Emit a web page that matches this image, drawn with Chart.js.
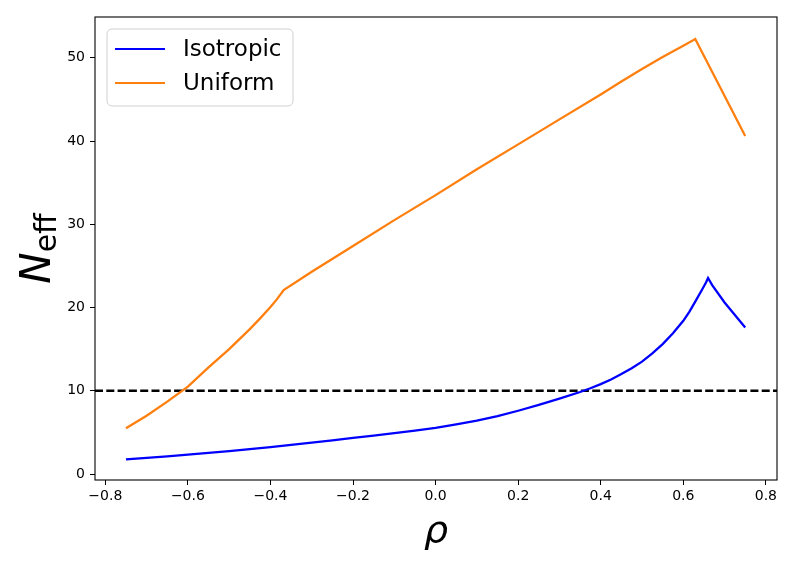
<!DOCTYPE html>
<html>
<head>
<meta charset="utf-8">
<script src="https://cdn.jsdelivr.net/npm/chart.js@4/dist/chart.umd.min.js"></script>
<style>
    html, body { margin: 0; padding: 0; background: #fff; }
    .wrap { width: 797px; height: 570px; }
</style>
</head>
<body>
<div class="wrap"><canvas id="chart" width="797" height="570"></canvas></div>
<script>
'use strict'

const rhoIso = [-0.75, -0.7, -0.65, -0.6, -0.55, -0.5, -0.45, -0.4, -0.35, -0.3, -0.25, -0.2, -0.15, -0.1, -0.05,
    0, 0.05, 0.1, 0.15, 0.2, 0.25, 0.3, 0.35, 0.375, 0.4, 0.425, 0.45, 0.475, 0.5, 0.525, 0.55, 0.575, 0.6,
    0.615, 0.63, 0.645, 0.655, 0.66, 0.67, 0.7, 0.75];
const nIso = [1.76, 1.94, 2.13, 2.33, 2.54, 2.76, 2.99, 3.24, 3.5, 3.77, 4.05, 4.35, 4.62, 4.92, 5.22,
    5.55, 5.95, 6.4, 6.95, 7.6, 8.3, 9.05, 9.85, 10.3, 10.8, 11.35, 12.0, 12.7, 13.5, 14.5, 15.6, 16.9, 18.4,
    19.5, 20.8, 22.1, 23.0, 23.55, 22.7, 20.6, 17.6];

const rhoUni = [-0.75, -0.7, -0.65, -0.6, -0.55, -0.5, -0.45, -0.425, -0.4, -0.385, -0.368, -0.3, -0.2, -0.1,
    0, 0.1, 0.2, 0.3, 0.4, 0.45, 0.5, 0.55, 0.6, 0.629, 0.75];
const nUni = [5.5, 7.0, 8.7, 10.5, 12.8, 15.0, 17.4, 18.7, 20.05, 20.95, 22.1, 24.3, 27.4, 30.5,
    33.5, 36.6, 39.6, 42.6, 45.6, 47.15, 48.65, 50.1, 51.45, 52.25, 40.6];

const threshold = 10;
const xTicks = [-0.8, -0.6, -0.4, -0.2, 0.0, 0.2, 0.4, 0.6, 0.8];
const yTicks = [0, 10, 20, 30, 40, 50];
const seriesNames = ['Isotropic', 'Uniform'];
const seriesColors = ['#0000ff', '#ff7f0e'];

document.addEventListener('DOMContentLoaded', () => {
    const font = "'DejaVu Sans', sans-serif";
    const xMin = -0.825, xMax = 0.827;

    function toPoints(xs, ys) {
        return xs.map((x, i) => ({x: x, y: ys[i]}));
    };

    function fmt(v) {
        return v.toFixed(1).replace('-', '\u2212');
    };

    // frame, legend box and axis labels drawn straight on the canvas
    const extras = {
        id: 'extras',
        afterDatasetsDraw(chart) {
            const ctx = chart.ctx;
            const a = chart.chartArea;
            ctx.save();
            ctx.strokeStyle = '#000';
            ctx.lineWidth = 1.1;
            ctx.strokeRect(a.left, a.top, a.right - a.left, a.bottom - a.top);

            // legend
            const lx = a.left + 12, ly = a.top + 12, lw = 186, lh = 77;
            ctx.beginPath();
            ctx.roundRect(lx, ly, lw, lh, 5);
            ctx.fillStyle = 'rgba(255,255,255,0.8)';
            ctx.fill();
            ctx.strokeStyle = '#d0d0d0';
            ctx.lineWidth = 1;
            ctx.stroke();

            ctx.font = `23px ${font}`;
            ctx.textBaseline = 'middle';
            for (let i = 0; i < seriesNames.length; i++) {
                const y = ly + 20 + i * 34;
                ctx.beginPath();
                ctx.moveTo(lx + 8, y);
                ctx.lineTo(lx + 58, y);
                ctx.strokeStyle = seriesColors[i];
                ctx.lineWidth = 2.2;
                ctx.stroke();
                ctx.fillStyle = '#000';
                ctx.fillText(seriesNames[i], lx + 76, y + 1);
            };

            // x label
            ctx.fillStyle = '#000';
            ctx.textAlign = 'center';
            ctx.textBaseline = 'alphabetic';
            ctx.font = `italic 38px ${font}`;
            ctx.fillText('\u03C1', (a.left + a.right) / 2, 542);

            // y label N_eff
            ctx.translate(50, (a.top + a.bottom) / 2);
            ctx.rotate(-Math.PI / 2);
            ctx.textAlign = 'left';
            ctx.font = `italic 42px ${font}`;
            const wN = ctx.measureText('N').width;
            ctx.font = `30px ${font}`;
            const wE = ctx.measureText('eff').width;
            const start = -(wN + wE) / 2;
            ctx.font = `italic 42px ${font}`;
            ctx.fillText('N', start, 0);
            ctx.font = `30px ${font}`;
            ctx.fillText('eff', start + wN, 6);
            ctx.restore();
        }
    };

    const ctx = document.getElementById('chart').getContext('2d');

    new Chart(ctx, {
        type: 'line',
        data: {
            datasets: [
                {
                    label: seriesNames[0],
                    data: toPoints(rhoIso, nIso),
                    borderColor: seriesColors[0],
                    borderWidth: 2.3,
                    pointRadius: 0,
                    tension: 0,
                    fill: false
                },
                {
                    label: seriesNames[1],
                    data: toPoints(rhoUni, nUni),
                    borderColor: seriesColors[1],
                    borderWidth: 2.3,
                    pointRadius: 0,
                    tension: 0,
                    fill: false
                },
                {
                    label: 'threshold',
                    data: [{x: xMin, y: threshold}, {x: xMax, y: threshold}],
                    borderColor: '#000',
                    borderWidth: 2.3,
                    borderDash: [8, 3.3],
                    pointRadius: 0,
                    fill: false
                }
            ]
        },
        options: {
            responsive: false,
            animation: false,
            layout: {
                padding: {left: 0, top: 17, right: 20, bottom: 0}
            },
            plugins: {
                legend: {display: false},
                tooltip: {enabled: false}
            },
            scales: {
                x: {
                    type: 'linear',
                    min: xMin,
                    max: xMax,
                    afterBuildTicks: (scale) => {
                        scale.ticks = xTicks.map((v) => ({value: v}));
                    },
                    afterFit: (scale) => {
                        scale.height = 90;
                    },
                    grid: {
                        drawOnChartArea: false,
                        drawTicks: true,
                        tickLength: 5,
                        tickColor: '#000',
                        tickWidth: 1
                    },
                    border: {display: false},
                    ticks: {
                        color: '#000',
                        padding: 3,
                        maxRotation: 0,
                        font: {family: font, size: 14},
                        callback: (v) => fmt(v)
                    }
                },
                y: {
                    type: 'linear',
                    min: -0.72,
                    max: 54.9,
                    afterBuildTicks: (scale) => {
                        scale.ticks = yTicks.map((v) => ({value: v}));
                    },
                    afterFit: (scale) => {
                        scale.width = 95;
                    },
                    grid: {
                        drawOnChartArea: false,
                        drawTicks: true,
                        tickLength: 5,
                        tickColor: '#000',
                        tickWidth: 1
                    },
                    border: {display: false},
                    ticks: {
                        color: '#000',
                        padding: 5,
                        font: {family: font, size: 14},
                        callback: (v) => String(v)
                    }
                }
            }
        },
        plugins: [extras]
    });
});
</script>
</body>
</html>
